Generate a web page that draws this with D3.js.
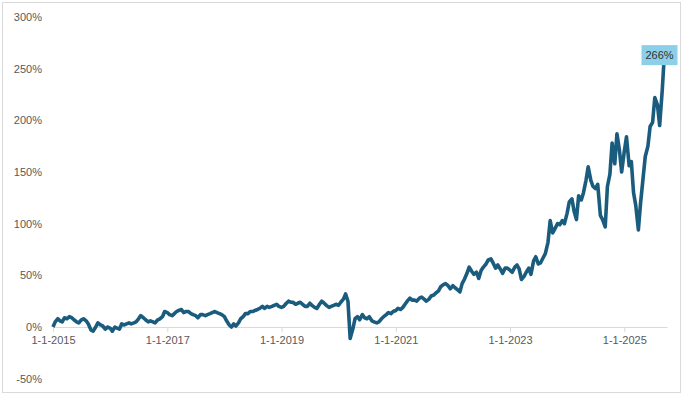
<!DOCTYPE html>
<html>
<head>
<meta charset="utf-8">
<script src="https://cdn.jsdelivr.net/npm/d3@7"></script>
<style>
  body { margin: 0; background: #fff; }
  svg { display: block; font-family: "Liberation Sans", Arial, sans-serif; }
</style>
</head>
<body>
<svg id="chart" width="683" height="395"></svg>
<script>
// half-month observations (1st and 15th), cumulative return in %
var startYear = 2015;
var returns2015 = [0, 5, 8, 6, 5, 9, 8, 10, 9, 7, 5, 4, 7, 8, 6, 3, -3, -4, 0, 4, 2, 1, -2, 0];
var returns2016 = [-1, -4, 0, -1, -2, 3, 2, 3, 4, 3, 4, 5, 8, 11, 9, 7, 5, 6, 5, 4, 7, 8, 10, 15];
var returns2017 = [14, 12, 11, 13, 15, 16, 17, 14, 15, 15, 13, 12, 11, 9, 12, 12, 11, 12, 13, 14, 15, 14, 13, 12];
var returns2018 = [10, 6, 2, 0, 3, 1, 4, 8, 10, 13, 13, 15, 15, 16, 17, 18, 20, 18, 20, 19, 20, 21, 22, 20];
var returns2019 = [19, 20, 23, 25, 24, 24, 22, 23, 24, 22, 20, 20, 23, 21, 19, 18, 22, 25, 23, 21, 19, 20, 21, 22];
var returns2020 = [21, 24, 27, 32, 25, -11, -2, 8, 10, 7, 12, 9, 8, 10, 6, 5, 4, 5, 8, 10, 12, 14, 13, 15];
var returns2021 = [16, 18, 17, 19, 22, 25, 28, 26, 26, 25, 28, 29, 27, 25, 27, 30, 31, 33, 35, 39, 41, 42, 40, 37];
var returns2022 = [40, 38, 36, 34, 42, 46, 52, 58, 54, 51, 53, 47, 55, 58, 61, 65, 66, 62, 57, 60, 56, 52, 57, 57];
var returns2023 = [55, 53, 58, 60, 56, 46, 49, 53, 57, 51, 64, 68, 61, 62, 67, 71, 82, 103, 91, 95, 100, 99, 103, 100];
var returns2024 = [110, 121, 124, 112, 104, 127, 123, 130, 142, 155, 142, 136, 134, 138, 108, 104, 97, 136, 148, 178, 158, 187, 171, 150];
var returns2025 = [170, 184, 156, 160, 130, 118, 94, 120, 144, 165, 175, 194, 198, 222, 215, 195, 230, 266];

var yTicks = [-50, 0, 50, 100, 150, 200, 250, 300];
var xTickYears = [2015, 2017, 2019, 2021, 2023, 2025];

var allYears = [returns2015, returns2016, returns2017, returns2018, returns2019, returns2020,
                returns2021, returns2022, returns2023, returns2024, returns2025];

var data = [];
allYears.forEach(function(vals, yi) {
  vals.forEach(function(v, i) {
    var month = Math.floor(i / 2);
    var day = i % 2 === 0 ? 1 : 15;
    data.push({ date: new Date(startYear + yi, month, day), value: v });
  });
});

var svg = d3.select("#chart");

// outer frame
svg.append("rect")
    .attr("x", 2.5).attr("y", 2.5)
    .attr("width", 678).attr("height", 390)
    .attr("fill", "none")
    .attr("stroke", "#d9d9d9");

var x = d3.scaleTime()
    .domain([new Date(2015, 0, 1), new Date(2025, 9, 1)])
    .range([53, 667]);

var y = d3.scaleLinear()
    .domain([-50, 300])
    .range([378.7, 17]);

// y labels
var yAxis = svg.append("g")
    .attr("transform", "translate(42,0)")
    .call(d3.axisLeft(y)
      .tickValues(yTicks)
      .tickSize(0)
      .tickPadding(0)
      .tickFormat(function(d) { return d + "%"; }));
yAxis.select(".domain").remove();
yAxis.selectAll("text")
    .attr("fill", "#595959")
    .style("font-size", "11px");

// x axis on the zero line
var xAxis = svg.append("g")
    .attr("transform", "translate(0," + y(0) + ")")
    .call(d3.axisBottom(x)
      .tickValues(xTickYears.map(function(yr) { return new Date(yr, 0, 1); }))
      .tickSizeInner(5)
      .tickSizeOuter(0)
      .tickPadding(4)
      .tickFormat(function(d) { return "1-1-" + d.getFullYear(); }));
xAxis.select(".domain").attr("stroke", "#d9d9d9");
xAxis.selectAll(".tick line").attr("stroke", "#d9d9d9");
xAxis.selectAll("text")
    .attr("fill", "#595959")
    .style("font-size", "11px");

var line = d3.line()
    .x(function(d) { return x(d.date); })
    .y(function(d) { return y(d.value); });

svg.append("path")
    .datum(data)
    .attr("fill", "none")
    .attr("stroke", "#1a5c7e")
    .attr("stroke-width", 3.6)
    .attr("stroke-linejoin", "round")
    .attr("d", line);

// end label
var last = data[data.length - 1];
var lx = x(last.date), ly = y(last.value);
svg.append("rect")
    .attr("x", lx - 23).attr("y", ly - 7)
    .attr("width", 36).attr("height", 20)
    .attr("fill", "#8ccfe9");
svg.append("text")
    .attr("x", lx - 5).attr("y", ly + 3)
    .attr("dy", "0.35em")
    .attr("text-anchor", "middle")
    .attr("fill", "#333")
    .style("font-size", "11px")
    .text(last.value + "%");
</script>
</body>
</html>
